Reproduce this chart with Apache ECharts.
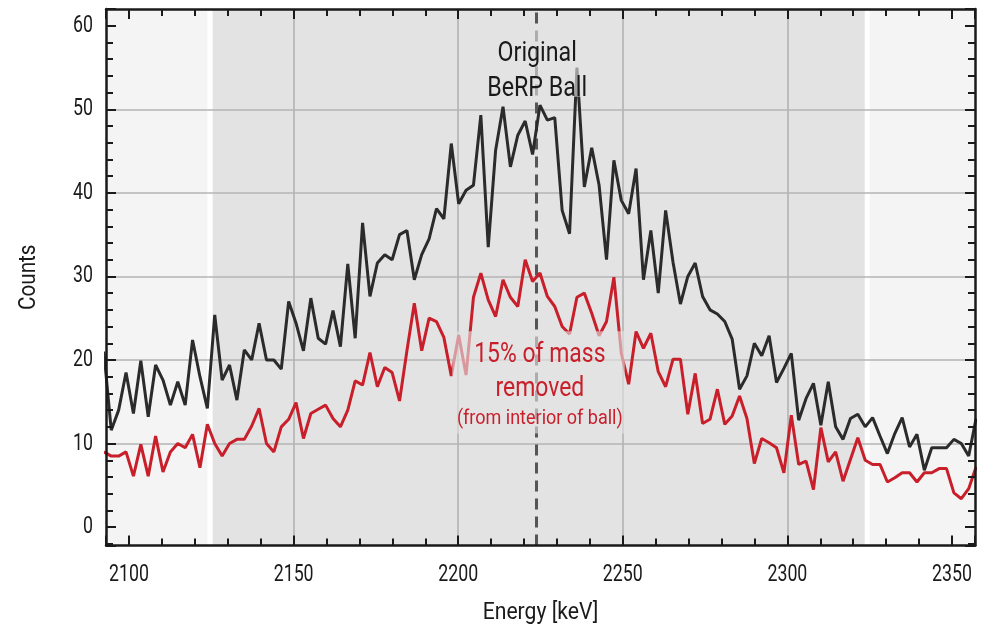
<!DOCTYPE html>
<html>
<head>
<meta charset="utf-8">
<script src="https://cdn.jsdelivr.net/npm/echarts@6/dist/echarts.min.js"></script>
<style>
  html, body { margin: 0; padding: 0; background: #fff; }
  #chart { width: 992px; height: 632px; }
</style>
</head>
<body>
<div id="chart"></div>
<script>
// Channel calibration of the spectrum (keV)
const binStart = 2092.35;
const binWidth = 2.2456;

// Counts per channel, original BeRP ball
const originalCounts = [
  21, 11.6, 14, 18.5, 13.6, 19.9, 13.2, 19.4, 17.6, 14.6,
  17.4, 14.6, 22.4, 18, 14.2, 25.4, 17.6, 19.4, 15.2, 21.2,
  20, 24.4, 20, 20, 18.9, 27, 24.4, 21.1, 27.4, 22.6,
  21.9, 25.9, 21.6, 31.5, 22.6, 36.4, 27.6, 31.6, 32.6, 32,
  35, 35.5, 29.6, 32.6, 34.5, 38.1, 36.9, 45.9, 38.7, 40.3,
  40.9, 49.3, 33.5, 45.1, 50.3, 43.1, 46.9, 48.6, 44.6, 50.5,
  48.7, 49, 37.9, 35.1, 55, 40.7, 45.4, 40.9, 32, 43.9,
  39.1, 37.5, 42.9, 29.6, 35.5, 28, 37.9, 31.7, 26.7, 30,
  31.6, 27.6, 26, 25.5, 24.6, 22.5, 16.5, 18.1, 22, 20.5,
  22.9, 17.3, 19, 20.8, 12.8, 15.4, 17.2, 12.2, 17.4, 12,
  10.5, 13, 13.5, 12, 13.1, 10.9, 8.8, 11.2, 13.1, 9.6,
  11.1, 6.8, 9.5, 9.5, 9.5, 10.5, 10, 8.5, 13
];

// Counts per channel, ball with 15% of its mass removed
const removedCounts = [
  9, 8.5, 8.5, 9, 6.1, 9.9, 6.1, 10.9, 6.6, 9,
  10, 9.5, 11.1, 7.1, 12.3, 10, 8.5, 10, 10.5, 10.5,
  12.1, 14.2, 10, 9, 12, 12.9, 14.9, 10.6, 13.6, 14.1,
  14.6, 13, 12, 14, 17.5, 17, 20.9, 16.8, 19.1, 18.5,
  15.1, 21.1, 26.8, 21.1, 25, 24.6, 22.7, 18.1, 23, 18.2,
  27.5, 30.4, 27.2, 25.2, 29.6, 27.5, 26.4, 32, 29.4, 30.4,
  27.6, 26.4, 24, 23.1, 27.5, 28, 25.6, 22.9, 24.6, 29.9,
  20.8, 17.1, 23.4, 21.4, 23.2, 18.6, 16.8, 20.1, 20.1, 13.5,
  18.4, 12.4, 12.9, 16.5, 12.3, 13.3, 15.7, 13, 7.6, 10.6,
  10.1, 9.5, 6.5, 13.4, 7.5, 7.9, 4.5, 11.9, 7.8, 9,
  5.5, 8.1, 10.7, 8, 7.5, 7.5, 5.4, 5.9, 6.5, 6.5,
  5.4, 6.5, 6.5, 7, 7, 4.1, 3.4, 4.6, 7.2
];

// Axis extents and tick labels
const energyRange = [2093, 2357];
const countRange = [-2.2, 62];
const energyTicks = [2100, 2150, 2200, 2250, 2300, 2350];
const countTicks = [0, 10, 20, 30, 40, 50, 60];
const energyTitle = 'Energy [keV]';
const countTitle = 'Counts';

// Shaded energy windows
const sideBands = [[2093, 2123.8], [2325.0, 2357]];
const roiBand = [2125.4, 2323.5];

// Reference line at the hydrogen capture peak
const peakEnergy = 2223.8;

// Interior grid lines
const gridEnergies = [2150, 2200, 2250, 2300];
const gridCounts = [10, 20, 30, 40, 50];

// Annotations: text lines, anchor (energy, counts), backdrop boxes
const originalLines = ['Original', 'BeRP Ball'];
const originalLineAt = [[2224, 56.6], [2224, 52.4]];
const originalBox = [[2207.5, 59.6], [2240.5, 51.5]];
const removedLines = ['15% of mass', 'removed', '(from interior of ball)'];
const removedLineAt = [[2224.8, 20.55], [2224.8, 16.55], [2224.8, 12.9]];
const removedBox = [[2198.2, 23.45], [2250.6, 11.2]];

const FONT = "Roboto, 'Noto Sans', sans-serif";
const INK = '#1a1a1a';
const RED = '#c81f2b';

const toPairs = (arr) => arr.map((v, i) => [binStart + i * binWidth, v]);

const chart = echarts.init(document.getElementById('chart'), null, { renderer: 'canvas' });

const axisTickStyle = { show: true, inside: true, length: 10, lineStyle: { color: INK, width: 2 } };
const minorTickStyle = (n) => ({ show: true, splitNumber: n, length: 7, lineStyle: { color: INK, width: 2 } });
const frameLine = { show: true, onZero: false, lineStyle: { color: INK, width: 2.5 } };

const baseAxis = {
  type: 'value', z: 10,
  axisLine: frameLine, axisTick: axisTickStyle, minorTick: minorTickStyle(5),
  splitLine: { show: false }, axisLabel: { show: false }
};

chart.setOption({
  backgroundColor: '#ffffff',
  animation: false,
  grid: { left: 106, right: 17, top: 9, bottom: 86.5, containLabel: false },
  xAxis: [
    Object.assign({}, baseAxis, { min: energyRange[0], max: energyRange[1], splitNumber: 5 }),
    Object.assign({}, baseAxis, { position: 'top', min: energyRange[0], max: energyRange[1], splitNumber: 5 })
  ],
  yAxis: [
    Object.assign({}, baseAxis, { min: countRange[0], max: countRange[1], splitNumber: 6 }),
    Object.assign({}, baseAxis, { position: 'right', min: countRange[0], max: countRange[1], splitNumber: 6 })
  ],
  series: [
    {
      // background windows
      name: 'bands', type: 'line', data: [], silent: true,
      markArea: {
        silent: true, z: 1,
        data: [
          [{ xAxis: sideBands[0][0], itemStyle: { color: '#f4f4f4' } }, { xAxis: sideBands[0][1] }],
          [{ xAxis: roiBand[0], itemStyle: { color: '#e3e3e3' } }, { xAxis: roiBand[1] }],
          [{ xAxis: sideBands[1][0], itemStyle: { color: '#f4f4f4' } }, { xAxis: sideBands[1][1] }]
        ]
      }
    },
    {
      // grid lines
      name: 'grid', type: 'line', data: [], silent: true,
      markLine: {
        silent: true, z: 2, symbol: ['none', 'none'], animation: false,
        label: { show: false },
        lineStyle: { color: '#b5b5b5', width: 1.7, type: 'solid' },
        data: gridEnergies.map(e => ({ xAxis: e })).concat(gridCounts.map(c => ({ yAxis: c })))
      }
    },
    {
      // peak reference
      name: 'peak', type: 'line', data: [], silent: true,
      markLine: {
        silent: true, z: 3, symbol: ['none', 'none'], animation: false,
        label: { show: false },
        lineStyle: { color: '#555555', width: 3, type: [11, 7] },
        data: [{ xAxis: peakEnergy }]
      }
    },
    {
      name: 'Original BeRP Ball', type: 'line', z: 4, showSymbol: false, symbol: 'none',
      data: toPairs(originalCounts),
      lineStyle: { color: '#2b2b2b', width: 3 }, clip: true
    },
    {
      name: '15% of mass removed', type: 'line', z: 4, showSymbol: false, symbol: 'none',
      data: toPairs(removedCounts),
      lineStyle: { color: RED, width: 3 }, clip: true
    },
    {
      // annotation backdrops
      name: 'notes', type: 'line', data: [], silent: true,
      markArea: {
        silent: true, z: 6,
        itemStyle: { color: 'rgba(227,227,227,0.62)' },
        data: [
          [{ coord: originalBox[0] }, { coord: originalBox[1] }],
          [{ coord: removedBox[0] }, { coord: removedBox[1] }]
        ]
      }
    }
  ]
});

// Text is laid out through the axes' own scales, in a condensed face
const px = (e) => chart.convertToPixel({ xAxisIndex: 0 }, e);
const py = (c) => chart.convertToPixel({ yAxisIndex: 0 }, c);
const plotLeft = px(energyRange[0]);
const plotRight = px(energyRange[1]);
const plotTop = py(countRange[1]);
const plotBottom = py(countRange[0]);

function label(text, x, y, opts) {
  opts = opts || {};
  const align = opts.align || 'center';
  return {
    type: 'text', x: x, y: y, z: 20, silent: true,
    scaleX: opts.scaleX || 0.8, rotation: opts.rotation || 0,
    style: {
      text: text, fill: opts.color || INK,
      fontFamily: FONT, fontSize: opts.size || 22,
      align: align, textAlign: align,
      verticalAlign: 'middle', textVerticalAlign: 'middle'
    }
  };
}

const texts = [];
energyTicks.forEach(v => texts.push(label(String(v), px(v), plotBottom + 29, { size: 24, scaleX: 0.74 })));
countTicks.forEach(v => texts.push(label(String(v), plotLeft - 13, py(v), { size: 24, scaleX: 0.74, align: 'right' })));
texts.push(label(energyTitle, (plotLeft + plotRight) / 2, plotBottom + 68, { size: 23, scaleX: 0.92 }));
texts.push(label(countTitle, 29, (plotTop + plotBottom) / 2, { size: 23, scaleX: 0.9, rotation: Math.PI / 2 }));
originalLines.forEach((t, i) => texts.push(label(t, px(originalLineAt[i][0]), py(originalLineAt[i][1]), { size: 27, scaleX: 0.86 })));
removedLines.forEach((t, i) => texts.push(label(t, px(removedLineAt[i][0]), py(removedLineAt[i][1]),
  { size: i < 2 ? 27 : 20, scaleX: i < 2 ? 0.85 : 0.9, color: RED })));

chart.setOption({ graphic: { elements: texts } });
</script>
</body>
</html>
